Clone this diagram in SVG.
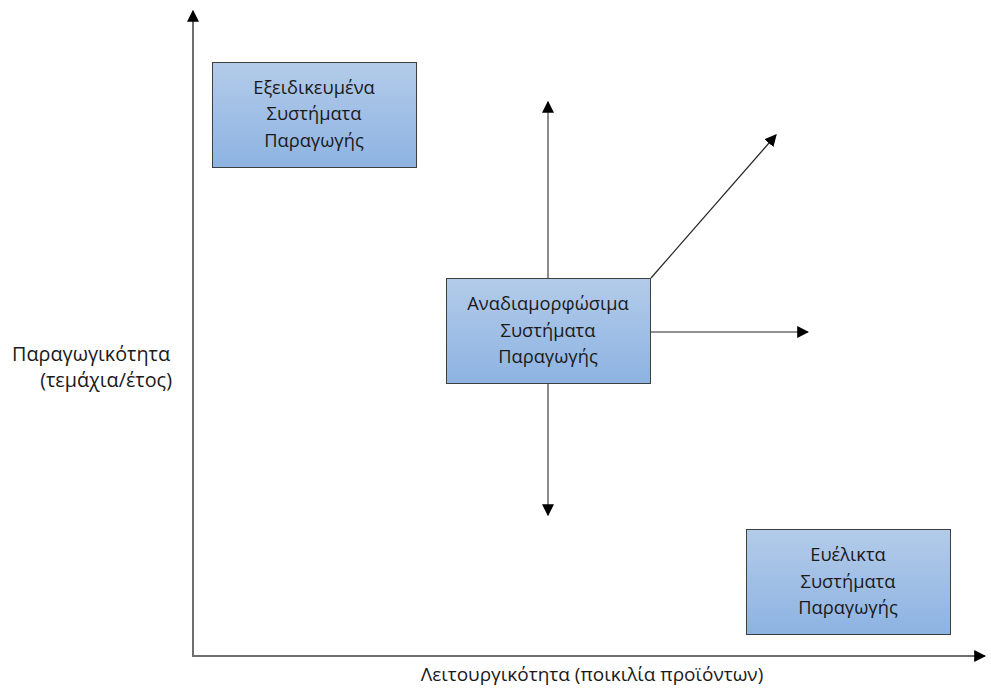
<svg xmlns="http://www.w3.org/2000/svg" width="991" height="688" viewBox="0 0 991 688">
  <style>
    .box { stroke: #3f3f3f; stroke-width: 1; fill: url(#boxFill); }
    .lbl { font-family: "Open Sans", "DejaVu Sans", sans-serif; font-size: 18.3px; fill: #1a1a1a; text-anchor: middle; }
    .ax { font-family: "Open Sans", "DejaVu Sans", sans-serif; font-size: 19.8px; fill: #1a1a1a; }
    .axis { stroke: #6f6f6f; stroke-width: 2; fill: none; }
    .arr { stroke: #7f7f7f; stroke-width: 1.8; fill: none; }
    .thin { stroke: #262626; stroke-width: 1.2; fill: none; }
  </style>
  <defs>
    <linearGradient id="boxFill" x1="0" y1="0" x2="0" y2="1">
      <stop offset="0" stop-color="#b3cbe9"/>
      <stop offset="1" stop-color="#8db3e2"/>
    </linearGradient>
    <marker id="head" viewBox="0 0 10 10" refX="9" refY="5" markerWidth="12" markerHeight="12" markerUnits="userSpaceOnUse" orient="auto">
      <path d="M0,0 L10,5 L0,10 Z" fill="#000"/>
    </marker>
  </defs>

  <rect width="991" height="688" fill="#fff"/>

  <g id="connectors">
    <line class="axis" x1="193" y1="656" x2="193" y2="11" marker-end="url(#head)"/>
    <line class="axis" x1="192" y1="656" x2="985" y2="656" marker-end="url(#head)"/>
    <line class="arr" x1="548" y1="278" x2="548" y2="102" marker-end="url(#head)"/>
    <line class="arr" x1="548" y1="383" x2="548" y2="515" marker-end="url(#head)"/>
    <line class="thin" x1="651" y1="332" x2="808" y2="332" marker-end="url(#head)"/>
    <line class="thin" x1="651" y1="278" x2="776" y2="135" marker-end="url(#head)"/>
  </g>

  <g id="specialised">
    <rect class="box" x="212.5" y="62.5" width="204" height="105"/>
    <text class="lbl" x="314" y="94">Εξειδικευμένα</text>
    <text class="lbl" x="314" y="120">Συστήματα</text>
    <text class="lbl" x="314" y="147">Παραγωγής</text>
  </g>

  <g id="reconfigurable">
    <rect class="box" x="446.5" y="278.5" width="204" height="105"/>
    <text class="lbl" x="548" y="310">Αναδιαμορφώσιμα</text>
    <text class="lbl" x="548" y="337">Συστήματα</text>
    <text class="lbl" x="548" y="363">Παραγωγής</text>
  </g>

  <g id="flexible">
    <rect class="box" x="746.5" y="529.5" width="204" height="105"/>
    <text class="lbl" x="848" y="561">Ευέλικτα</text>
    <text class="lbl" x="848" y="588">Συστήματα</text>
    <text class="lbl" x="848" y="614">Παραγωγής</text>
  </g>

  <g id="axis-labels">
    <text class="ax" x="170" y="361" text-anchor="end">Παραγωγικότητα</text>
    <text class="ax" x="172" y="387" text-anchor="end">(τεμάχια/έτος)</text>
    <text class="ax" x="592" y="681" text-anchor="middle" style="font-size:19px">Λειτουργικότητα (ποικιλία προϊόντων)</text>
  </g>
</svg>
